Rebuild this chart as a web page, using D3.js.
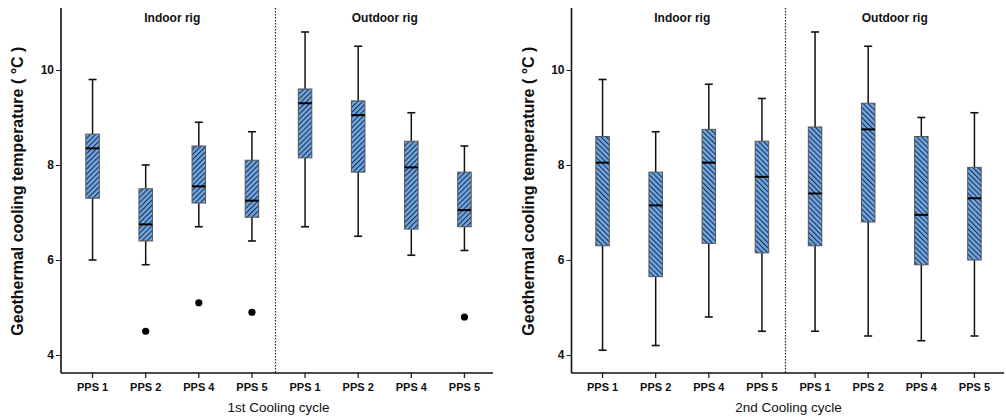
<!DOCTYPE html>
<html>
<head>
<meta charset="utf-8">
<script src="https://cdn.jsdelivr.net/npm/d3@7"></script>
<style>
  body { margin: 0; background: #fff; }
  svg { display: block; font-family: "Liberation Sans", Arial, sans-serif; }
</style>
</head>
<body>
<svg id="chart" width="1006" height="419"></svg>
<script>
// Probe positions per rig
const probes = ["PPS 1", "PPS 2", "PPS 4", "PPS 5"];
const rigs = ["Indoor rig", "Outdoor rig"];
const cycles = ["1st Cooling cycle", "2nd Cooling cycle"];
const yTicks = [4, 6, 8, 10];

// 1st cooling cycle: indoor PPS1..5 then outdoor PPS1..5
const c1Low    = [6.0, 5.9, 6.7, 6.4, 6.7, 6.5, 6.1, 6.2];
const c1Q1     = [7.3, 6.4, 7.2, 6.9, 8.15, 7.85, 6.65, 6.7];
const c1Median = [8.35, 6.75, 7.55, 7.25, 9.3, 9.05, 7.95, 7.05];
const c1Q3     = [8.65, 7.5, 8.4, 8.1, 9.6, 9.35, 8.5, 7.85];
const c1High   = [9.8, 8.0, 8.9, 8.7, 10.8, 10.5, 9.1, 8.4];
const c1Outliers = [[], [4.5], [5.1], [4.9], [], [], [], [4.8]];

// 2nd cooling cycle
const c2Low    = [4.1, 4.2, 4.8, 4.5, 4.5, 4.4, 4.3, 4.4];
const c2Q1     = [6.3, 5.65, 6.35, 6.15, 6.3, 6.8, 5.9, 6.0];
const c2Median = [8.05, 7.15, 8.05, 7.75, 7.4, 8.75, 6.95, 7.3];
const c2Q3     = [8.6, 7.85, 8.75, 8.5, 8.8, 9.3, 8.6, 7.95];
const c2High   = [9.8, 8.7, 9.7, 9.4, 10.8, 10.5, 9.0, 9.1];
const c2Outliers = [[], [], [], [], [], [], [], []];

const panels = [
  { cycle: cycles[0], low: c1Low, q1: c1Q1, med: c1Median, q3: c1Q3, high: c1High, out: c1Outliers,
    axisX: 61, x0: 66, x1: 491, xEnd: 493, hatch: 45 },
  { cycle: cycles[1], low: c2Low, q1: c2Q1, med: c2Median, q3: c2Q3, high: c2High, out: c2Outliers,
    axisX: 571.5, x0: 576, x1: 1001, xEnd: 1004, hatch: -45 }
];

const svg = d3.select("#chart");
const defs = svg.append("defs");

// Diagonal hatch fills, one per stripe direction
panels.forEach((p, i) => {
  const pat = defs.append("pattern")
    .attr("id", "hatch" + i)
    .attr("patternUnits", "userSpaceOnUse")
    .attr("width", 3.6).attr("height", 3.6)
    .attr("patternTransform", `rotate(${p.hatch})`);
  pat.append("rect").attr("width", 3.6).attr("height", 3.6).attr("fill", "#74abe0");
  pat.append("rect").attr("width", 1.2).attr("height", 3.6).attr("fill", "#1e3460");
});

const y = d3.scaleLinear().domain([3.621, 11.305]).range([373, 8]);

panels.forEach((p, pi) => {
  const keys = [];
  rigs.forEach(r => probes.forEach(pr => keys.push(r + "|" + pr)));
  const x = d3.scaleBand().domain(keys).range([p.x0, p.x1]);
  const g = svg.append("g");

  // y axis
  const ya = g.append("g")
    .attr("transform", `translate(${p.axisX},0)`)
    .call(d3.axisLeft(y).tickValues(yTicks).tickSize(5).tickFormat(d3.format("d")));
  ya.select(".domain").remove();
  ya.selectAll("text").attr("font-size", 12).attr("font-weight", "bold")
    .attr("font-family", "Liberation Sans, Arial, sans-serif").attr("fill", "#111").attr("dx", "1");
  ya.selectAll("line").attr("stroke", "#222");
  g.append("line").attr("x1", p.axisX).attr("x2", p.axisX).attr("y1", 8).attr("y2", 373)
    .attr("stroke", "#111").attr("stroke-width", 1.6);

  // x axis
  const xa = g.append("g")
    .attr("transform", "translate(0,373)")
    .call(d3.axisBottom(x).tickSize(5).tickFormat(k => k.split("|")[1]));
  xa.select(".domain").remove();
  xa.selectAll("text").attr("font-size", 11).attr("font-weight", "bold")
    .attr("font-family", "Liberation Sans, Arial, sans-serif").attr("fill", "#111").attr("dy", "0.9em");
  xa.selectAll("line").attr("stroke", "#222").attr("stroke-width", 1.3);
  g.append("line").attr("x1", p.axisX).attr("x2", p.xEnd).attr("y1", 373).attr("y2", 373)
    .attr("stroke", "#111").attr("stroke-width", 1.6);

  // axis titles
  g.append("text")
    .attr("transform", `translate(${p.axisX - 38},${y(7.45)}) rotate(-90)`)
    .attr("text-anchor", "middle").attr("font-size", 16).attr("font-weight", "bold")
    .attr("fill", "#111").text("Geothermal cooling temperature ( °C )");
  g.append("text")
    .attr("x", (p.x0 + p.x1) / 2).attr("y", 412)
    .attr("text-anchor", "middle").attr("font-size", 13.5).attr("fill", "#111").text(p.cycle);

  // rig divider and rig titles
  const mid = (x(keys[3]) + x.bandwidth() + x(keys[4])) / 2 - 3;
  g.append("line").attr("x1", mid).attr("x2", mid).attr("y1", 8).attr("y2", 373)
    .attr("stroke", "#222").attr("stroke-width", 1.2).attr("stroke-dasharray", "1.5,1.5");
  rigs.forEach((r, ri) => {
    const cx = ri === 0
      ? (x(keys[0]) + x(keys[3]) + x.bandwidth()) / 2
      : (x(keys[4]) + x(keys[7]) + x.bandwidth()) / 2;
    g.append("text").attr("x", cx).attr("y", 22).attr("text-anchor", "middle")
      .attr("font-size", 12).attr("font-weight", "bold").attr("fill", "#111").text(r);
  });

  // boxes
  const bw = 13.5, cap = 8;
  keys.forEach((k, i) => {
    const cx = x(k) + x.bandwidth() / 2;
    const b = g.append("g");
    b.append("line").attr("x1", cx).attr("x2", cx).attr("y1", y(p.high[i])).attr("y2", y(p.q3[i]))
      .attr("stroke", "#111").attr("stroke-width", 1.5);
    b.append("line").attr("x1", cx).attr("x2", cx).attr("y1", y(p.q1[i])).attr("y2", y(p.low[i]))
      .attr("stroke", "#111").attr("stroke-width", 1.5);
    [p.high[i], p.low[i]].forEach(v => {
      b.append("line").attr("x1", cx - cap / 2).attr("x2", cx + cap / 2).attr("y1", y(v)).attr("y2", y(v))
        .attr("stroke", "#111").attr("stroke-width", 1.6);
    });
    b.append("rect").attr("x", cx - bw / 2).attr("width", bw)
      .attr("y", y(p.q3[i])).attr("height", y(p.q1[i]) - y(p.q3[i]))
      .attr("fill", `url(#hatch${pi})`).attr("stroke", "#555").attr("stroke-width", 1);
    b.append("line").attr("x1", cx - bw / 2).attr("x2", cx + bw / 2)
      .attr("y1", y(p.med[i])).attr("y2", y(p.med[i]))
      .attr("stroke", "#000").attr("stroke-width", 2);
    p.out[i].forEach(v => {
      b.append("circle").attr("cx", cx).attr("cy", y(v)).attr("r", 3.6).attr("fill", "#000");
    });
  });
});
</script>
</body>
</html>
